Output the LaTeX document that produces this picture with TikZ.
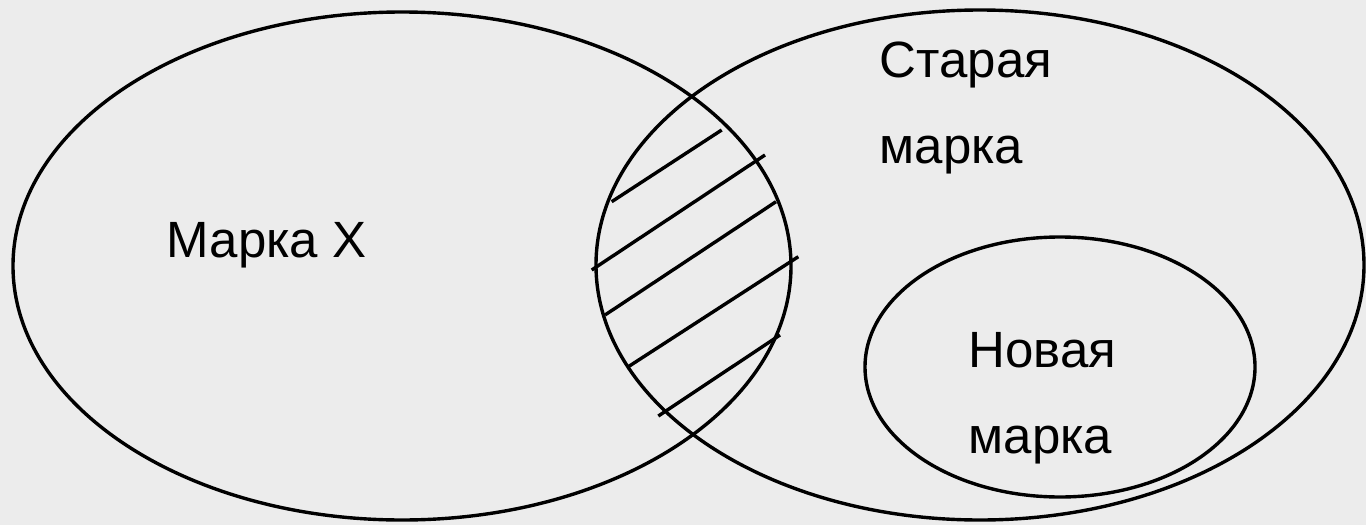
\documentclass[tikz,border=0pt]{standalone}
\usepackage{fontspec}
\setmainfont{Liberation Sans}
\usetikzlibrary{positioning}
\definecolor{bgcolor}{RGB}{236,236,236}

\begin{document}
\begin{tikzpicture}[x=1pt,y=-1pt,line width=3.4pt,
    label/.style={inner sep=0pt,align=left,anchor=base west,font=\fontsize{51}{86}\selectfont}]
        \fill[bgcolor] (0,0) rectangle (1366,525);
        \useasboundingbox (0,0) rectangle (1366,525);
        % the three sets
        \draw (402,266) ellipse [x radius=389,y radius=254];
        \draw (980,265) ellipse [x radius=384,y radius=255];
        \draw (1060,367) ellipse [x radius=195,y radius=130];
        % hatching of the common part
        \foreach \xa/\ya/\xb/\yb in {611.7/201.7/721.7/130,591.7/270/765/155,605/315/776/201.7,
            628.3/366.7/798.3/256.7,658.3/416/780/335}
          \draw (\xa,\ya) -- (\xb,\yb);
        % labels (base = last line)
        \node[label] (markx) at (165,257) {Марка X};
        \node[label] (old) at (878,163) {Старая\\марка};
        \node[label] (new) at (967,453) {Новая\\марка};
      \end{tikzpicture}
\end{document}
